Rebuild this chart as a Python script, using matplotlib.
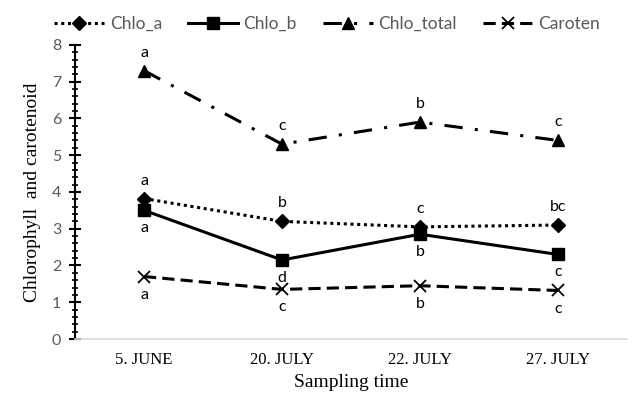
import matplotlib.pyplot as plt
from matplotlib.ticker import MultipleLocator

dates = ['5. JUNE', '20. JULY', '22. JULY', '27. JULY']

chlo_a = [3.82, 3.2, 3.05, 3.1]
chlo_b = [3.5, 2.15, 2.85, 2.3]
chlo_total = [7.3, 5.3, 5.9, 5.4]
caroten = [1.7, 1.35, 1.45, 1.32]

# significance letters
let_a = ['a', 'b', 'c', 'bc']
let_b = ['a', 'd', 'b', 'c']
let_total = ['a', 'c', 'b', 'c']
let_car = ['a', 'c', 'b', 'c']

sans = 'Lato'
serif = 'Liberation Serif'

fig = plt.figure(figsize=(6.33, 3.97), dpi=100)
ax = fig.add_axes([0.1185, 0.146, 0.872, 0.741])

x = list(range(len(dates)))

l1, = ax.plot(x, chlo_a, color='black', linestyle=(0, (1, 1.2)), linewidth=2.2,
              marker='D', markersize=7, label='Chlo_a')
l2, = ax.plot(x, chlo_b, color='black', linestyle='-', linewidth=2.2,
              marker='s', markersize=9, label='Chlo_b')
l3, = ax.plot(x, chlo_total, color='black', linestyle=(0, (6, 4, 1, 4)), linewidth=2.2,
              marker='^', markersize=9, label='Chlo_total')
l4, = ax.plot(x, caroten, color='black', linestyle=(0, (4, 2)), linewidth=2.2,
              marker='x', markersize=9, markeredgewidth=1.3, label='Caroten')

lab = dict(ha='center', fontsize=11.5, family=sans, color='black')
for i in x:
    ax.text(i, chlo_total[i] + 0.3, let_total[i], va='bottom', **lab)
    ax.text(i, chlo_a[i] + 0.3, let_a[i], va='bottom', **lab)
    ax.text(i, chlo_b[i] - 0.3, let_b[i], va='top', **lab)
    ax.text(i, caroten[i] - 0.3, let_car[i], va='top', **lab)

ax.set_xlim(-0.5, len(dates) - 0.5)
ax.set_ylim(0, 8)
ax.set_xticks(x)
ax.set_xticklabels(dates, family=serif, fontsize=12)
ax.yaxis.set_major_locator(MultipleLocator(1))
ax.yaxis.set_minor_locator(MultipleLocator(0.2))
for t in ax.get_yticklabels():
    t.set_family(sans)
    t.set_fontsize(11.5)
    t.set_color('#595959')

ax.tick_params(axis='x', length=0, pad=9)
ax.tick_params(axis='y', which='major', direction='inout', length=8, width=1.5, pad=6)
ax.tick_params(axis='y', which='minor', direction='inout', length=5, width=1.2)

for s in ['top', 'right']:
    ax.spines[s].set_visible(False)
ax.spines['left'].set_linewidth(1.5)
ax.spines['bottom'].set_color('#d9d9d9')
ax.spines['bottom'].set_linewidth(1.2)

ax.set_xlabel('Sampling time', family=serif, fontsize=14, labelpad=5)
ax.set_ylabel('Chlorophyll  and carotenoid', family=serif, fontsize=14, labelpad=8)

leg = fig.legend(handles=[l1, l2, l3, l4], loc='upper center', bbox_to_anchor=(0.517, 1.0),
                 ncol=4, frameon=False, handlelength=2.9, columnspacing=1.5,
                 handletextpad=0.3, prop={'family': sans, 'size': 12.5})
for t in leg.get_texts():
    t.set_color('#595959')

fig.savefig('out.png', dpi=100)
